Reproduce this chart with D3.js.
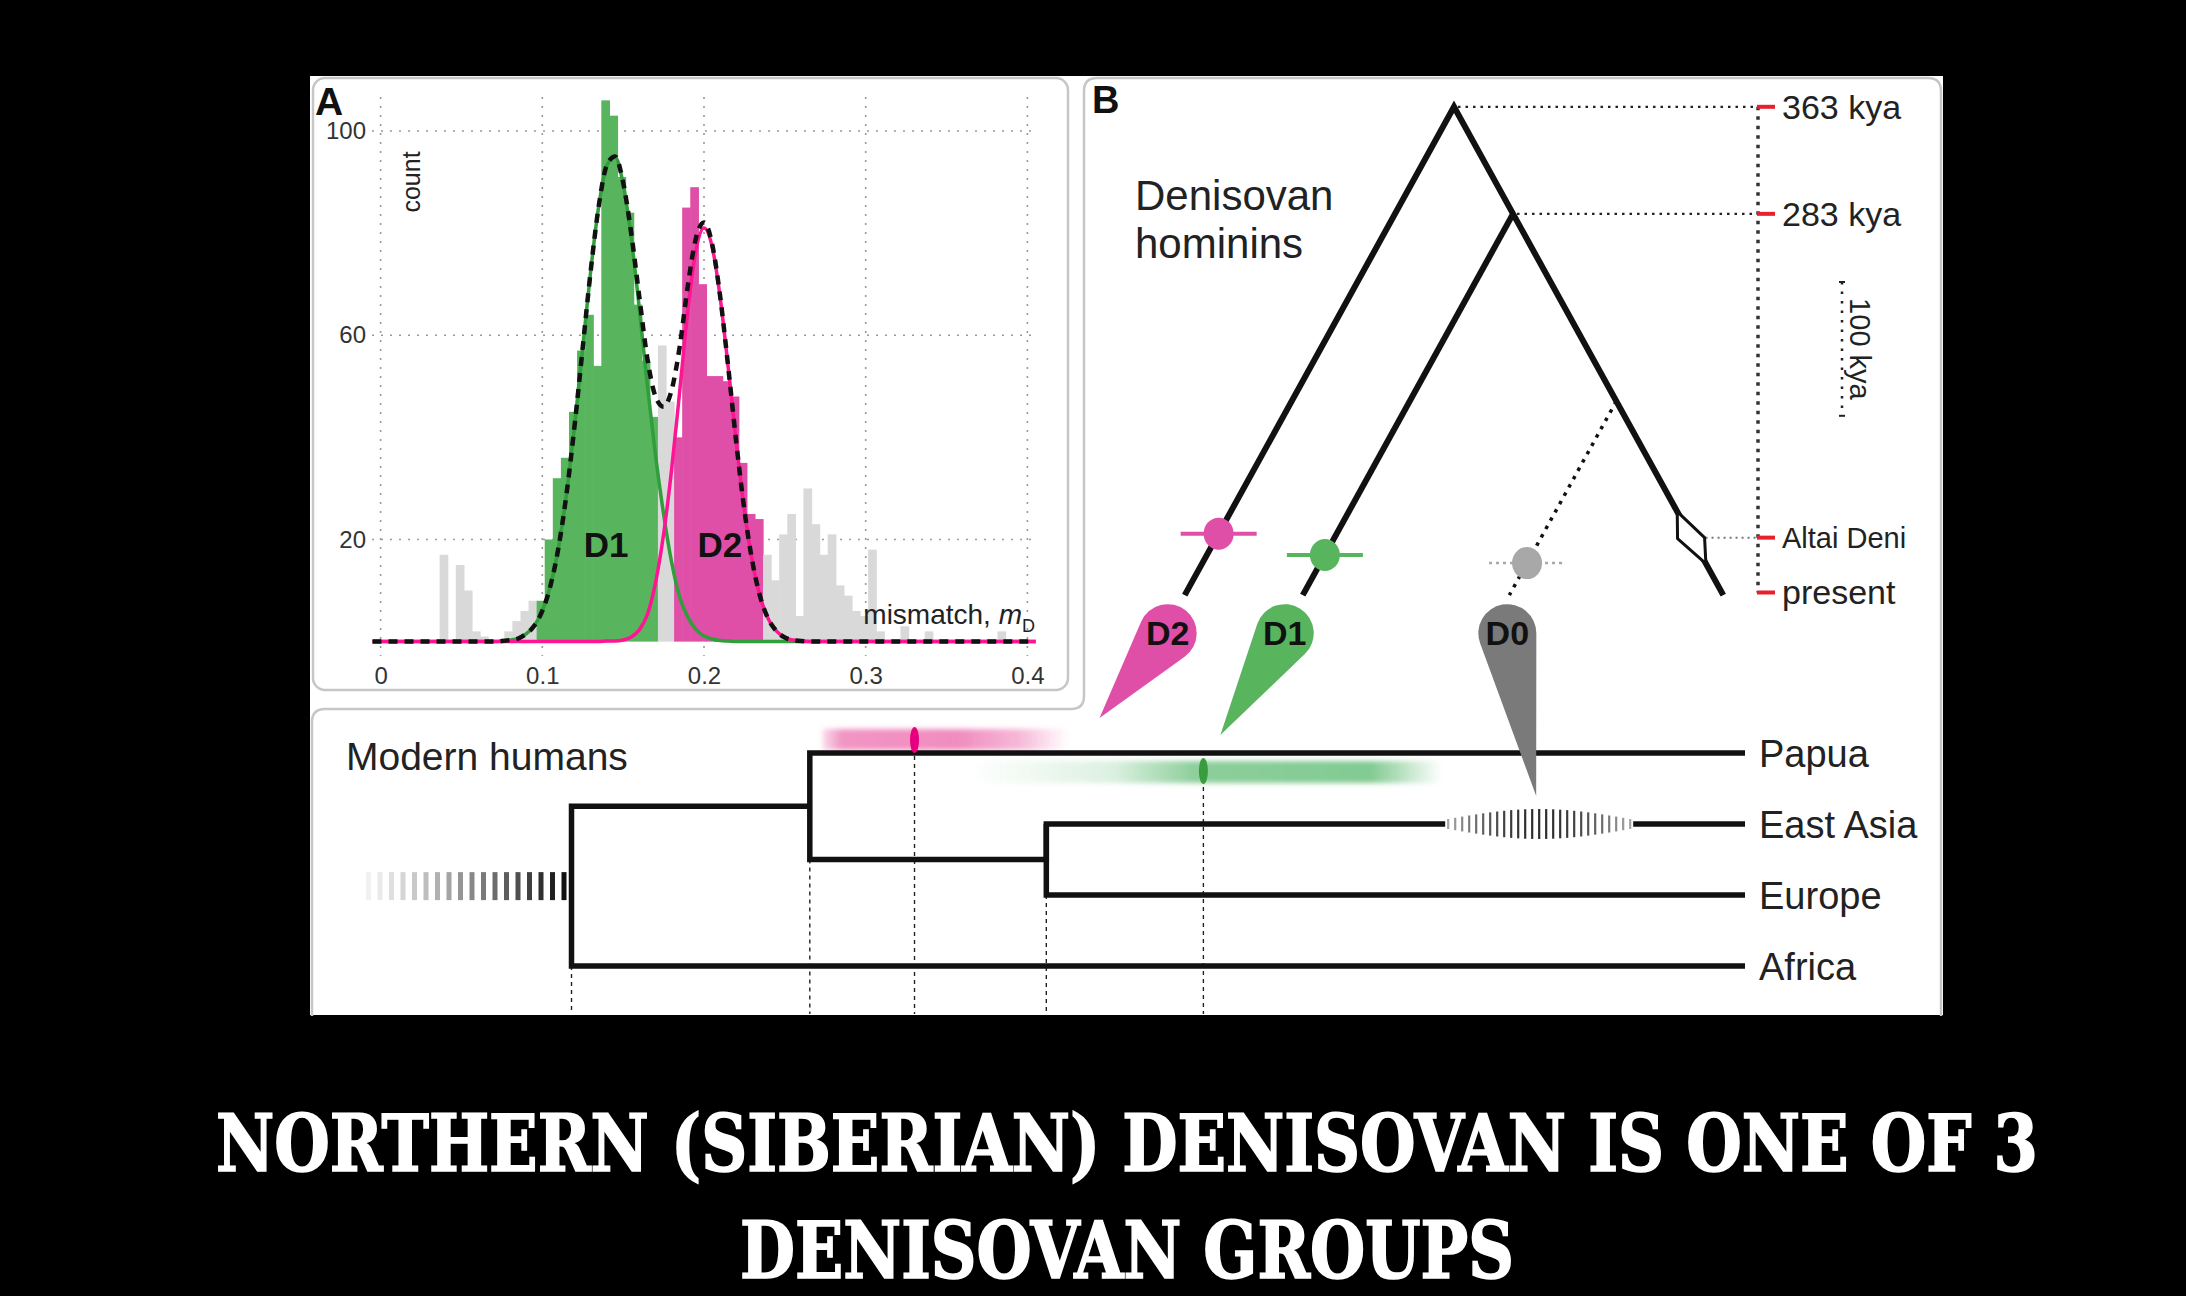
<!DOCTYPE html>
<html><head><meta charset="utf-8">
<script src="https://cdn.jsdelivr.net/npm/d3@7"></script>
<style>
html,body{margin:0;padding:0;background:#000;}
svg{display:block;}
text{font-family:"Liberation Sans",Arial,Helvetica,sans-serif;}
</style></head><body>
<svg id="c" width="2186" height="1296"></svg>
<script>
// ================= DATA =================
// Panel A – histogram of mismatch m_D (bins of width 0.005)
const histFirstEdge = 0.0365;
const histBinWidth = 0.005;
const histCounts = [17,0,15,10,2,1,0,0,2,4,6,8,
  8,20,32,36,45,57,64,54,106,103,91,84,66,55,44,
  58,47,
  40,85,89,70,52,52,51,48,35,25,24,
  17,12,21,25,5,30,23,17,21,11,9,6,5,18,2,0,0,3,0,0,2,0,0,0,0,0,0,0,0,2];
const histGroups = ("gggggggggggg" + "111111111111111" + "gg" + "22222222222" +
  "gggggggggggggggggggggggggggggg").split("");
// fitted curves
const curveX  = [-0.005,0.065,0.070,0.075,0.080,0.085,0.090,0.095,0.100,0.105,0.110,0.115,0.120,0.125,0.130,0.135,0.140,0.145,0.150,0.155,0.160,0.165,0.170,0.175,0.180,0.185,0.190,0.195,0.200,0.205,0.210,0.215,0.220,0.225,0.230,0.235,0.240,0.245,0.250,0.255,0.260,0.270,0.405];
const d1Curve = [0,0,0,0.1,0.3,0.6,1.5,3.1,6.0,10.9,18.4,29.0,42.4,57.6,72.8,85.5,93.3,94.9,89.6,79.1,65.2,50.1,36.5,25.0,15.5,8.7,4.8,2.4,1.1,0.5,0.2,0.1,0,0,0,0,0,0,0,0,0,0,0];
const d2Curve = [0,0,0,0,0,0,0,0,0,0,0,0,0,0,0,0,0.1,0.1,0.3,0.9,2.3,5.3,11.5,21.0,33.8,49.1,64.9,76.6,81.0,77.4,67.4,53.6,38.9,25.7,15.5,8.5,4.3,2.0,0.8,0.3,0.1,0,0];
const mixCurve = [0,0,0,0.1,0.3,0.6,1.5,3.1,6.0,10.9,18.4,29.0,42.4,57.6,72.8,85.5,93.4,95.0,89.9,80.0,67.5,55.4,48.0,46.0,49.3,57.8,69.7,79.0,82.1,77.9,67.6,53.7,38.9,25.7,15.5,8.5,4.3,2.0,0.8,0.3,0.1,0,0];
const xTicksA = [0, 0.1, 0.2, 0.3, 0.4];
const yTicksA = [20, 60, 100];
const curveLabels = ["D1", "D2"];
const curveLabelX = [0.1395, 0.2098];

// Panel B – Denisovan tree (times in kya)
const splitTimes = [363, 283, 143];          // root, D1 split, D0 split
const tipTime = -2;
const scaleTicks = [363, 283, 41, 0];
const scaleLabels = ["363 kya", "283 kya", "Altai Deni", "present"];
const altaiTime = 41;
const pulseNames = ["D2", "D1", "D0"];
const pulseTimesB = [44, 28, 22];
const scaleBarKya = 100;

// Bottom – modern human tree (times in kya)
const populations = ["Papua", "East Asia", "Europe", "Africa"];
const mhSplits = [65, 51.8, 38.7];           // Africa|rest, Papua|Eurasia, EastAsia|Europe
const mhPulseTimes = [46, 30, 11.4];         // D2, D1, D0 into modern humans
const presentTime = 0;

// Caption
const captionLines = ["NORTHERN (SIBERIAN) DENISOVAN IS ONE OF 3", "DENISOVAN GROUPS"];

// ================= DRAW =================
const svg = d3.select("#c");
const PINK = "#df4fa8", GREEN = "#58b55e", GRAYBAR = "#d9d9d9";
const defs = svg.append("defs");

svg.append("rect").attr("width", 2186).attr("height", 1296).attr("fill", "#000");
svg.append("rect").attr("x", 310).attr("y", 76).attr("width", 1633).attr("height", 939).attr("fill", "#fff");
// panel borders
svg.append("rect").attr("x", 313).attr("y", 78).attr("width", 755).attr("height", 612).attr("rx", 12)
  .attr("fill", "none").attr("stroke", "#c6c6c6").attr("stroke-width", 2.5);
svg.append("path").attr("d", "M312,1016 V722 Q312,709 325,709 H1071 Q1084,709 1084,696 V91 Q1084,78 1097,78 H1928 Q1941,78 1941,91 V1016")
  .attr("fill", "none").attr("stroke", "#c6c6c6").attr("stroke-width", 2.5);

// ---------- Panel A ----------
const gA = svg.append("g");
const xA = d3.scaleLinear().domain([0, 0.4]).range([380.6, 1027.4]);
const yA = d3.scaleLinear().domain([0, 100]).range([641.6, 131]);

gA.selectAll("line.vg").data(xTicksA).join("line")
  .attr("x1", d => xA(d)).attr("x2", d => xA(d)).attr("y1", 97).attr("y2", 656)
  .attr("stroke", "#9a9a9a").attr("stroke-width", 1.6).attr("stroke-dasharray", "2,7");
gA.selectAll("line.hg").data(yTicksA).join("line")
  .attr("x1", 372).attr("x2", 1036).attr("y1", d => yA(d)).attr("y2", d => yA(d))
  .attr("stroke", "#9a9a9a").attr("stroke-width", 1.6).attr("stroke-dasharray", "2,7");

const bins = histCounts.map((c, i) => ({
  x0: histFirstEdge + i * histBinWidth, x1: histFirstEdge + (i + 1) * histBinWidth, c, g: histGroups[i]
})).filter(b => b.c > 0);
const binColor = {g: GRAYBAR, "1": GREEN, "2": PINK};
gA.selectAll("rect.bar").data(bins).join("rect")
  .attr("x", d => xA(d.x0)).attr("width", d => xA(d.x1) - xA(d.x0) + 0.6)
  .attr("y", d => yA(d.c)).attr("height", d => yA(0) - yA(d.c))
  .attr("fill", d => binColor[d.g]);

const lineGen = arr => d3.line().x((d, i) => xA(curveX[i])).y(d => yA(d)).curve(d3.curveMonotoneX)(arr);
gA.append("path").attr("d", lineGen(d1Curve)).attr("fill", "none").attr("stroke", "#2f9e3b").attr("stroke-width", 3.5);
gA.append("path").attr("d", lineGen(d2Curve)).attr("fill", "none").attr("stroke", "#ff1493").attr("stroke-width", 3.5);
gA.append("path").attr("d", lineGen(mixCurve)).attr("fill", "none").attr("stroke", "#111").attr("stroke-width", 4.5).attr("stroke-dasharray", "9,7");

gA.selectAll("text.cl").data(curveLabels).join("text")
  .attr("x", (d, i) => xA(curveLabelX[i])).attr("y", yA(16.5)).attr("text-anchor", "middle")
  .attr("font-size", 35).attr("font-weight", "bold").attr("fill", "#111").text(d => d);

const axB = gA.append("g").attr("transform", "translate(0,667)")
  .call(d3.axisBottom(xA).tickValues(xTicksA).tickFormat(d3.format("")).tickSize(0).tickPadding(0));
axB.select(".domain").remove();
axB.selectAll("text").attr("font-size", 24).attr("fill", "#333").attr("font-family", "Liberation Sans, Arial, sans-serif");
const axL = gA.append("g").attr("transform", "translate(366,0)")
  .call(d3.axisLeft(yA).tickValues(yTicksA).tickSize(0).tickPadding(0));
axL.select(".domain").remove();
axL.selectAll("text").attr("font-size", 24).attr("fill", "#333").attr("font-family", "Liberation Sans, Arial, sans-serif");

gA.append("text").attr("transform", "translate(420,182) rotate(-90)").attr("text-anchor", "middle")
  .attr("font-size", 25).attr("fill", "#222").text("count");
const mm = gA.append("text").attr("x", 1035).attr("y", 624).attr("text-anchor", "end").attr("font-size", 28).attr("fill", "#222");
mm.append("tspan").text("mismatch, ");
mm.append("tspan").attr("font-style", "italic").text("m");
mm.append("tspan").attr("font-size", 18).attr("dy", 8).text("D");
gA.append("text").attr("x", 315).attr("y", 115).attr("font-size", 39).attr("font-weight", "bold").attr("fill", "#111").text("A");

// ---------- Panel B ----------
const gB = svg.append("g");
const yT = d3.scaleLinear().domain([0, 363]).range([592.5, 106.8]);
const apexX = 1454, slope = 0.5514, axisX = 1758;
const dy = t => yT(t) - yT(splitTimes[0]);
const rightX = t => apexX + slope * dy(t);
const leftX = t => apexX - slope * dy(t);
const d1X = t => rightX(splitTimes[1]) - slope * (yT(t) - yT(splitTimes[1]));
const d0X = t => rightX(splitTimes[2]) - slope * (yT(t) - yT(splitTimes[2]));
const branchX = [leftX, d1X, d0X];

gB.append("text").attr("x", 1092).attr("y", 113).attr("font-size", 38).attr("font-weight", "bold").attr("fill", "#111").text("B");
gB.append("text").attr("x", 1135).attr("y", 210).attr("font-size", 42).attr("fill", "#222").text("Denisovan");
gB.append("text").attr("x", 1135).attr("y", 258).attr("font-size", 42).attr("fill", "#222").text("hominins");

// dotted guides to time axis
gB.selectAll("line.hguide").data(splitTimes.slice(0, 2)).join("line")
  .attr("x1", d => rightX(d) + 4).attr("x2", axisX).attr("y1", d => yT(d)).attr("y2", d => yT(d))
  .attr("stroke", "#222").attr("stroke-width", 2.2).attr("stroke-dasharray", "2.5,5");
// time axis
gB.append("line").attr("x1", axisX).attr("x2", axisX).attr("y1", yT(363)).attr("y2", yT(0))
  .attr("stroke", "#333").attr("stroke-width", 3.5).attr("stroke-dasharray", "3.5,6");
gB.selectAll("line.rt").data(scaleTicks).join("line")
  .attr("x1", axisX - 1).attr("x2", axisX + 17).attr("y1", d => yT(d)).attr("y2", d => yT(d))
  .attr("stroke", "#e8202a").attr("stroke-width", 4);
gB.selectAll("text.st").data(scaleTicks).join("text")
  .attr("x", axisX + 24).attr("y", d => yT(d)).attr("dy", "0.35em")
  .attr("font-size", (d, i) => i === 2 ? 29 : 34).attr("fill", "#222").text((d, i) => scaleLabels[i]);

// 100 kya scale bar
const sbTop = 282, sbBot = sbTop + (yT(0) - yT(scaleBarKya));
gB.append("line").attr("x1", 1842).attr("x2", 1842).attr("y1", sbTop).attr("y2", sbBot)
  .attr("stroke", "#222").attr("stroke-width", 2.5).attr("stroke-dasharray", "2.5,7");
[sbTop, sbBot].forEach(y => gB.append("line").attr("x1", 1839).attr("x2", 1845).attr("y1", y).attr("y2", y).attr("stroke", "#222").attr("stroke-width", 2));
gB.append("text").attr("transform", `translate(1860,${(sbTop + sbBot) / 2}) rotate(90)`).attr("text-anchor", "middle")
  .attr("dy", "0.35em").attr("font-size", 29).attr("fill", "#222").text(scaleBarKya + " kya");

// D0 dotted branch
gB.append("line").attr("x1", rightX(splitTimes[2])).attr("y1", yT(splitTimes[2]))
  .attr("x2", d0X(tipTime)).attr("y2", yT(tipTime))
  .attr("stroke", "#111").attr("stroke-width", 3.5).attr("stroke-dasharray", "3.5,6");
// main tree
gB.append("path").attr("d", `M${leftX(tipTime)},${yT(tipTime)} L${apexX},${yT(splitTimes[0])} L${rightX(tipTime)},${yT(tipTime)}`)
  .attr("fill", "none").attr("stroke", "#111").attr("stroke-width", 6).attr("stroke-linejoin", "miter");
gB.append("line").attr("x1", rightX(splitTimes[1])).attr("y1", yT(splitTimes[1]))
  .attr("x2", d1X(tipTime)).attr("y2", yT(tipTime)).attr("stroke", "#111").attr("stroke-width", 6);

// Altai Denisovan sample (diamond)
const ay = yT(altaiTime), ax = rightX(altaiTime);
gB.append("line").attr("x1", ax + 14).attr("x2", axisX).attr("y1", ay).attr("y2", ay)
  .attr("stroke", "#777").attr("stroke-width", 2).attr("stroke-dasharray", "2,4");
gB.append("path").attr("d", `M${ax - slope * 26},${ay - 26} L${ax + 13},${ay} L${ax + slope * 26},${ay + 26} L${ax - 14},${ay + 1} Z`)
  .attr("fill", "#fff").attr("stroke", "#111").attr("stroke-width", 3).attr("stroke-linejoin", "round");

// introgression dots
const pulseColors = [PINK, GREEN, "#a8a8a8"];
pulseNames.forEach((n, i) => {
  const y = yT(pulseTimesB[i]), x = branchX[i](pulseTimesB[i]);
  gB.append("line").attr("x1", x - 38).attr("x2", x + 38).attr("y1", y).attr("y2", y)
    .attr("stroke", pulseColors[i]).attr("stroke-width", i === 2 ? 2.5 : 4)
    .attr("stroke-dasharray", i === 2 ? "3,4" : null);
  gB.append("ellipse").attr("cx", x).attr("cy", y).attr("rx", 15).attr("ry", 16).attr("fill", pulseColors[i]);
});

// ---------- Bottom panel ----------
const gC = svg.append("g");
const xM = d3.scaleLinear().domain([65, 0]).range([571.5, 1745]);
const yP = d3.scalePoint().domain(populations).range([753, 966]);
const yEur = (yP("East Asia") + yP("Europe")) / 2;
const yNonAfr = (yP("Papua") + yEur) / 2;
const [tAfr, tPap, tEas] = mhSplits;
const hatchCx = xM(mhPulseTimes[2]), hatchW = 188;

gC.append("text").attr("x", 346).attr("y", 770).attr("font-size", 39).attr("fill", "#222").text("Modern humans");

// gradient bands
function band(id, color, stops, x0, x1, y0, y1) {
  const g = defs.append("linearGradient").attr("id", id).attr("x1", 0).attr("x2", 1).attr("y1", 0).attr("y2", 0);
  stops.forEach(s => g.append("stop").attr("offset", s[0]).attr("stop-color", color).attr("stop-opacity", s[1]));
  gC.append("rect").attr("x", x0).attr("width", x1 - x0).attr("y", y0).attr("height", y1 - y0)
    .attr("fill", `url(#${id})`).attr("filter", "url(#blur)");
}
defs.append("filter").attr("id", "blur").attr("x", "-10%").attr("y", "-50%").attr("width", "120%").attr("height", "200%")
  .append("feGaussianBlur").attr("stdDeviation", 2.5);
const xPink = xM(mhPulseTimes[0]), xGreen = xM(mhPulseTimes[1]);
band("pinkG", "#e84f9c", [[0, 0.2], [0.08, 0.6], [0.55, 0.65], [0.8, 0.4], [1, 0]], xPink - 92, xPink + 154, yP("Papua") - 24, yP("Papua") - 3);
band("greenG", "#3fae58", [[0, 0], [0.3, 0.18], [0.48, 0.6], [0.85, 0.65], [1, 0]], xGreen - 233, xGreen + 238, yP("Papua") + 8, yP("Papua") + 30);

// dotted time guides
const guides = [[tAfr, yP("Africa")], [tPap, yEur], [mhPulseTimes[0], yP("Papua") - 13], [tEas, yP("Europe")], [mhPulseTimes[1], yP("Papua") + 18]];
gC.selectAll("line.g").data(guides).join("line")
  .attr("x1", d => xM(d[0])).attr("x2", d => xM(d[0])).attr("y1", d => d[1]).attr("y2", 1014)
  .attr("stroke", "#222").attr("stroke-width", 1.4).attr("stroke-dasharray", "4,4");

// ancestral fading hatch
const hatchL = d3.range(18);
gC.selectAll("rect.ah").data(hatchL).join("rect")
  .attr("x", i => xM(tAfr) - 10 - (17 - i) * 11.5).attr("width", 5)
  .attr("y", (yNonAfr + yP("Africa")) / 2 - 14).attr("height", 28)
  .attr("fill", "#111").attr("opacity", i => 0.06 + 0.94 * Math.pow(i / 17, 1.2));

// tree lines
const treeStroke = g => g.attr("fill", "none").attr("stroke", "#111").attr("stroke-width", 5.5).attr("stroke-linejoin", "miter");
gC.append("path").attr("d", `M${xM(presentTime)},${yP("Papua")} H${xM(tPap)} V${yEur} H${xM(tEas)} V${yP("East Asia")} H${hatchCx - hatchW / 2}`).call(treeStroke);
gC.append("path").attr("d", `M${hatchCx + hatchW / 2},${yP("East Asia")} H${xM(presentTime)}`).call(treeStroke);
gC.append("path").attr("d", `M${xM(tEas)},${yP("East Asia")} V${yP("Europe")} H${xM(presentTime)}`).call(treeStroke);
gC.append("path").attr("d", `M${xM(tPap)},${yNonAfr} H${xM(tAfr)} V${yP("Africa")} H${xM(presentTime)}`).call(treeStroke);

// East Asia D0 hatch
const hatchN = d3.range(27);
gC.selectAll("line.eh").data(hatchN).join("line")
  .attr("x1", i => hatchCx - hatchW / 2 + 3 + i * 7).attr("x2", i => hatchCx - hatchW / 2 + 3 + i * 7)
  .attr("y1", i => yP("East Asia") - (5 + 10 * Math.sin(Math.PI * i / 26)))
  .attr("y2", i => yP("East Asia") + (5 + 10 * Math.sin(Math.PI * i / 26)))
  .attr("stroke", "#222").attr("stroke-width", 2.2).attr("opacity", i => 0.4 + 0.55 * Math.sin(Math.PI * i / 26));

// pulse marks
gC.append("ellipse").attr("cx", xPink).attr("cy", yP("Papua") - 13).attr("rx", 4.5).attr("ry", 13).attr("fill", "#e6007e");
gC.append("ellipse").attr("cx", xGreen).attr("cy", yP("Papua") + 18).attr("rx", 4.5).attr("ry", 13).attr("fill", "#3a9b3f");

gC.selectAll("text.pop").data(populations).join("text")
  .attr("x", 1759).attr("y", d => yP(d)).attr("dy", "0.36em").attr("font-size", 38).attr("fill", "#222").text(d => d);

// ---------- teardrops linking panels ----------
function teardrop(cx, cy, r, tx, ty) {
  const a = Math.atan2(ty - cy, tx - cx), d = Math.hypot(tx - cx, ty - cy), b = Math.acos(r / d);
  const p1 = [cx + r * Math.cos(a + b), cy + r * Math.sin(a + b)];
  const p2 = [cx + r * Math.cos(a - b), cy + r * Math.sin(a - b)];
  return `M${tx},${ty} L${p1[0]},${p1[1]} A${r},${r} 0 1 1 ${p2[0]},${p2[1]} Z`;
}
const dropColors = [PINK, GREEN, "#7a7a7a"];
const headDX = [-17, -18, -2];
const tails = [[xPink + 185, yP("Papua") - 35], [xGreen + 17, yP("Papua") - 18], [hatchCx - 3, yP("Papua") + 43]];
pulseNames.forEach((n, i) => {
  const hx = branchX[i](tipTime) + headDX[i], hy = yT(tipTime) + 38;
  svg.append("path").attr("d", teardrop(hx, hy, 29, tails[i][0], tails[i][1])).attr("fill", dropColors[i]);
  svg.append("text").attr("x", hx).attr("y", hy + 12).attr("text-anchor", "middle").attr("font-size", 34)
    .attr("font-weight", "bold").attr("fill", "#111").text(n);
});

// ---------- caption ----------
const capY = [1171, 1278], capW = [1822, 774];
svg.selectAll("text.cap").data(captionLines).join("text")
  .attr("x", 1127).attr("y", (d, i) => capY[i]).attr("text-anchor", "middle")
  .style("font-family", "'DejaVu Serif Condensed','DejaVu Serif',serif").style("font-stretch", "condensed")
  .attr("font-weight", "bold").attr("font-size", 78).attr("fill", "#fff")
  .attr("stroke", "#fff").attr("stroke-width", 1.6)
  .text(d => d)
  .each(function (d, i) {
    const el = d3.select(this);
    const w = this.getComputedTextLength();
    const n = d.length;
    if (w < capW[i]) {
      el.attr("letter-spacing", (capW[i] - w) / n);
      el.attr("x", 1127 + (capW[i] - w) / n / 2);
    } else {
      el.attr("transform", `translate(1127,0) scale(${capW[i] / w},1) translate(-1127,0)`);
    }
  });
</script>
</body></html>
